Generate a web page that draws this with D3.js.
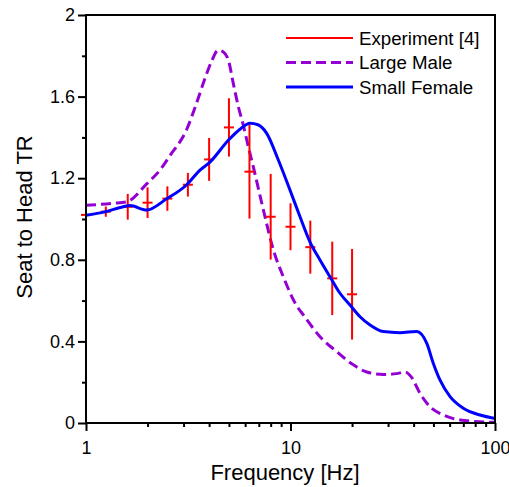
<!DOCTYPE html>
<html>
<head>
<meta charset="utf-8">
<script src="https://cdn.jsdelivr.net/npm/d3@7"></script>
<style>
  html, body { margin: 0; padding: 0; background: #fff; }
  svg { display: block; font-family: "Liberation Sans", Arial, sans-serif; }
</style>
</head>
<body>
<svg id="chart" width="509" height="487"></svg>
<script>
// ---- Data ----
const expFreq = [1, 1.25, 1.6, 2, 2.5, 3.15, 4, 5, 6.3, 8, 10, 12.5, 16, 20];
const expMean = [1.02, 1.036, 1.06, 1.08, 1.10, 1.168, 1.292, 1.449, 1.232, 1.011, 0.962, 0.862, 0.709, 0.631];
const expErr  = [0.015, 0.025, 0.063, 0.075, 0.06, 0.058, 0.105, 0.143, 0.23, 0.21, 0.115, 0.13, 0.18, 0.222];

const maleFreq = [1, 1.36, 1.59, 1.98, 2.3, 2.57, 3.11, 3.41, 3.82, 4.12, 4.43, 4.68, 4.97, 5.25, 5.56, 5.88, 6.22, 6.58, 7.37, 8.25, 9.22, 10.72, 11.55, 13.94, 16.83, 20.28, 23.6, 28.43, 33, 36.3, 39.2, 43.0, 48.1, 55.9, 67.4, 100];
const maleTR   = [1.067, 1.077, 1.085, 1.172, 1.24, 1.31, 1.44, 1.545, 1.69, 1.775, 1.828, 1.82, 1.779, 1.665, 1.55, 1.46, 1.354, 1.255, 1.044, 0.848, 0.717, 0.575, 0.53, 0.423, 0.35, 0.285, 0.25, 0.238, 0.242, 0.25, 0.222, 0.145, 0.08, 0.039, 0.015, 0.003];

const femaleFreq = [1, 1.239, 1.522, 1.64, 1.98, 2.48, 3.11, 3.61, 4.0, 4.98, 5.66, 6.34, 6.93, 7.65, 8.72, 9.94, 11.13, 12.46, 13.94, 15.6, 17.46, 19.54, 21.88, 24.5, 28.43, 34.3, 41.4, 46.4, 49.9, 53.8, 60.3, 70.0, 84.5, 100];
const femaleTR   = [1.018, 1.035, 1.06, 1.066, 1.044, 1.099, 1.168, 1.24, 1.275, 1.387, 1.44, 1.469, 1.462, 1.42, 1.289, 1.142, 1.011, 0.887, 0.799, 0.717, 0.636, 0.578, 0.521, 0.48, 0.448, 0.443, 0.448, 0.39, 0.293, 0.211, 0.129, 0.072, 0.039, 0.022];

const yTicks = [0, 0.4, 0.8, 1.2, 1.6, 2];
const yMinor = [0.2, 0.6, 1.0, 1.4, 1.8];
const xTicks = [1, 10, 100];
const xMinor = [2, 3, 4, 5, 6, 7, 8, 9, 20, 30, 40, 50, 60, 70, 80, 90];
const legendLabels = ["Experiment [4]", "Large Male", "Small Female"];

// ---- Layout ----
const L = 86, R = 495, T = 15, B = 423;
const svg = d3.select("#chart");
const x = d3.scaleLog().domain([1, 100]).range([L, R]);
const y = d3.scaleLinear().domain([0, 2]).range([B, T]);

const RED = "#ff0000", PURPLE = "#9400d3", BLUE = "#0000ff";

// curves
const line = d3.line().x(d => x(d[0])).y(d => y(d[1])).curve(d3.curveMonotoneX);
svg.append("path")
  .datum(maleFreq.map((f, i) => [f, maleTR[i]]))
  .attr("d", line).attr("fill", "none").attr("stroke", PURPLE)
  .attr("stroke-width", 3).attr("stroke-dasharray", "10,5");

// error bars
const eg = svg.append("g").attr("stroke", RED).attr("stroke-width", 2);
expFreq.forEach((f, i) => {
  eg.append("line").attr("x1", x(f)).attr("x2", x(f))
    .attr("y1", y(expMean[i] - expErr[i])).attr("y2", y(expMean[i] + expErr[i]));
  eg.append("line").attr("x1", x(f) - 5).attr("x2", x(f) + 5)
    .attr("y1", y(expMean[i])).attr("y2", y(expMean[i]));
});

svg.append("path")
  .datum(femaleFreq.map((f, i) => [f, femaleTR[i]]))
  .attr("d", line).attr("fill", "none").attr("stroke", BLUE)
  .attr("stroke-width", 3);

// frame
svg.append("rect").attr("x", L).attr("y", T).attr("width", R - L).attr("height", B - T)
  .attr("fill", "none").attr("stroke", "#000").attr("stroke-width", 2);

// axes
const xAxis = d3.axisBottom(x).tickValues(xTicks).tickFormat(d3.format("d")).tickSize(8).tickPadding(14);
const gx = svg.append("g").attr("transform", `translate(0,${B})`).call(xAxis);
const gxm = svg.append("g").attr("transform", `translate(0,${B})`)
  .call(d3.axisBottom(x).tickValues(xMinor).tickFormat("").tickSize(4));

const yAxis = d3.axisLeft(y).tickValues(yTicks).tickFormat(d => d === 0 || d === 2 ? d3.format("d")(d) : d3.format(".1f")(d)).tickSize(8).tickPadding(3);
const gy = svg.append("g").attr("transform", `translate(${L},0)`).call(yAxis);
const gym = svg.append("g").attr("transform", `translate(${L},0)`)
  .call(d3.axisLeft(y).tickValues(yMinor).tickFormat("").tickSize(4));

[gx, gxm, gy, gym].forEach(g => {
  g.select(".domain").remove();
  g.selectAll(".tick line").attr("stroke", "#000").attr("stroke-width", 2);
  g.selectAll("text").attr("fill", "#000").attr("font-size", 18)
    .attr("font-family", "Liberation Sans, Arial, sans-serif");
});
gx.selectAll("text").attr("dy", null).attr("y", 31).attr("dominant-baseline", null);

// axis titles
svg.append("text").attr("x", 285).attr("y", 480).attr("text-anchor", "middle")
  .attr("font-size", 22).attr("fill", "#000").text("Frequency [Hz]");
svg.append("text").attr("transform", `translate(32,217) rotate(-90)`)
  .attr("text-anchor", "middle").attr("font-size", 22).attr("fill", "#000").text("Seat to Head TR");

// legend
const legStyles = [
  { c: RED, w: 2, dash: null },
  { c: PURPLE, w: 3, dash: "10,5" },
  { c: BLUE, w: 3, dash: null }
];
legendLabels.forEach((lab, i) => {
  const ly = 38 + i * 24.5;
  svg.append("line").attr("x1", 286).attr("x2", 353).attr("y1", ly).attr("y2", ly)
    .attr("stroke", legStyles[i].c).attr("stroke-width", legStyles[i].w)
    .attr("stroke-dasharray", legStyles[i].dash);
  svg.append("text").attr("x", 359).attr("y", ly + 6.5).attr("font-size", 18.7)
    .attr("fill", "#000").text(lab);
});
</script>
</body>
</html>
